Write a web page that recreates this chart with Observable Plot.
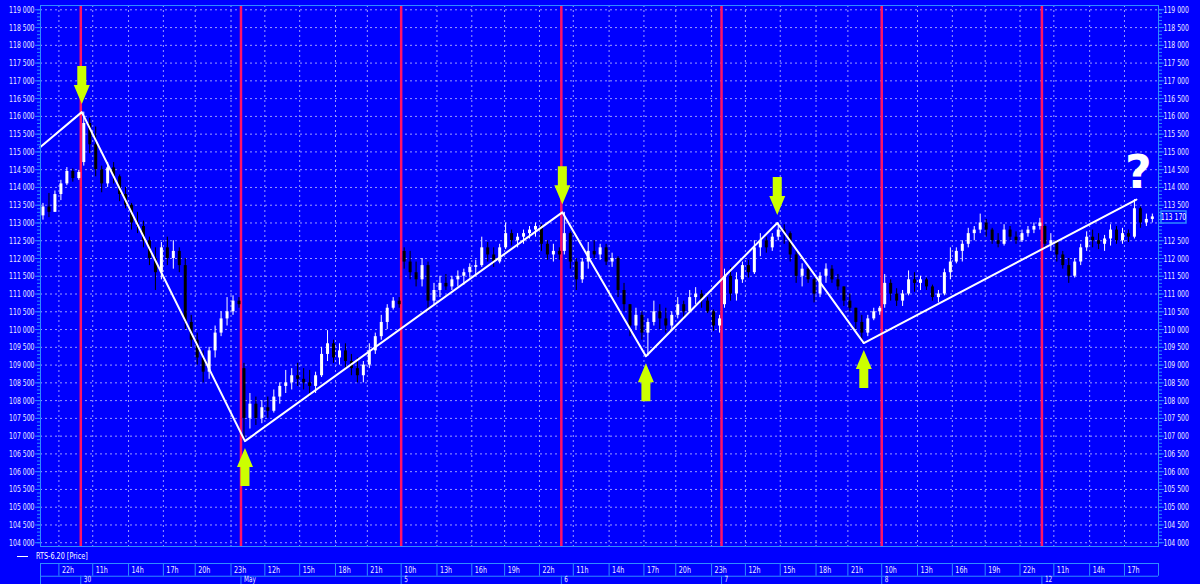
<!DOCTYPE html>
<html><head><meta charset="utf-8">
<script src="https://cdn.jsdelivr.net/npm/d3@7"></script>
<script src="https://cdn.jsdelivr.net/npm/@observablehq/plot@0.6"></script>
<style>
html,body{margin:0;padding:0;background:#0000ff;width:1200px;height:584px;overflow:hidden;}
#legend{position:relative;height:14px;font:9px "DejaVu Sans Condensed","DejaVu Sans",sans-serif;color:#fff;}
#legend .sw{position:absolute;left:17px;top:8px;width:11px;height:1px;background:#fff;}
#legend .lb{position:absolute;left:36px;top:2px;line-height:12px;transform:scaleX(0.8);transform-origin:0 50%;white-space:nowrap;}
svg{display:block}
</style></head><body>
<div id="chart"></div>
<div id="legend"><div class="sw"></div><span class="lb">RTS-6.20 [Price]</span></div>
<div id="axis"></div>
<script>
// ---- data ----
const seriesName = "RTS-6.20 [Price]";
const dayLabels = ["29", "30", "May", "5", "6", "7", "8", "12"];
const firstSlot = [20, 0, 0, 0, 0, 0, 0, 0]; // first visible 30-min slot of each session
// 30-minute bars [open, high, low, close]
const apr29 = [[113200,113550,113080,113450],[113450,113830,113150,113300],[113300,113900,113300,113800],[113800,114200,113630,114100],[114100,114560,114050,114450],[114450,114520,114150,114250],[114250,114480,114200,114420]];
const apr30 = [[114700,116120,114600,115800],[115800,115950,114950,115200],[115200,115700,114300,114500],[114500,114600,113850,114100],[114100,114700,114000,114550],[114550,114700,114100,114300],[114300,114350,113600,113800],[113800,114000,113400,113500],[113500,113550,112800,113000],[113000,113300,112700,112900],[112900,113050,112300,112500],[112500,112600,111800,112000],[112000,112300,111100,111600],[111600,112450,111400,112300],[112300,112600,111800,112000],[112000,112500,111700,112200],[112200,112300,111600,111800],[111800,112000,110000,110200],[110200,110400,109500,109700],[109700,109900,109000,109200],[109200,109400,108500,108800],[108800,109500,108600,109400],[109400,110100,109200,109900],[109900,110500,109800,110300],[110300,110900,110100,110500],[110500,110950,110400,110800],[110800,110900,110600,110700]];
const may4 = [[108900,109050,106860,107500],[107500,108200,107200,107900],[107900,108100,107300,107500],[107500,108000,107350,107800],[107800,108100,107500,107700],[107700,108300,107650,108100],[108100,108500,107900,108400],[108400,108850,108200,108500],[108500,108900,108300,108700],[108700,109050,108400,108600],[108600,108900,108300,108500],[108500,108850,108100,108400],[108400,108800,108200,108700],[108700,109500,108650,109300],[109300,109970,109100,109600],[109600,109700,109050,109200],[109200,109600,109000,109400],[109400,109600,108900,109100],[109100,109300,108700,108900],[108900,109200,108500,108700],[108700,109100,108500,109000],[109000,109600,108900,109400],[109400,109900,109300,109800],[109800,110400,109700,110200],[110200,110700,110000,110600],[110600,110900,110550,110800],[110800,110900,110600,110700]];
const may5 = [[112200,112300,111700,111900],[111900,112200,111400,111600],[111600,111900,111200,111400],[111400,112000,111200,111800],[111800,111900,110500,110800],[110800,111300,110700,111100],[111100,111500,110900,111300],[111300,111550,111100,111200],[111200,111500,111100,111400],[111400,111650,111200,111500],[111500,111700,111250,111600],[111600,111850,111450,111750],[111750,111950,111500,111800],[111800,112600,111750,112300],[112300,112450,111900,112100],[112100,112300,111750,111900],[111900,112400,111850,112300],[112300,113000,112250,112700],[112700,112800,112350,112500],[112500,112700,112300,112600],[112600,112800,112400,112700],[112700,112900,112550,112800],[112800,113000,112600,112900],[112900,112950,112200,112400],[112400,112500,111950,112100],[112100,112400,111900,112200],[112200,112300,111950,112100]];
const may6 = [[112200,113300,112100,112700],[112700,112750,111700,111900],[111900,112000,111100,111400],[111400,112000,111300,111900],[111900,112450,111700,112200],[112200,112500,112000,112100],[112100,112400,111950,112300],[112300,112400,111800,111900],[111900,112150,111750,112000],[112000,112050,110900,111100],[111100,111300,110500,110700],[110700,110700,109800,110100],[110100,110600,110000,110400],[110400,110500,109700,109900],[109900,110300,109250,110200],[110200,110800,110100,110500],[110500,110700,110000,110300],[110300,110600,109900,110100],[110100,110500,110000,110400],[110400,110900,110300,110700],[110700,110800,110250,110500],[110500,111100,110500,110900],[110900,111180,110700,111000],[111000,111100,110600,110800],[110800,110900,110450,110500],[110500,110550,109950,110100],[110100,110400,109900,110300]];
const may7 = [[110700,111700,110600,111500],[111500,111750,110800,111000],[111000,111600,110800,111400],[111400,111900,111300,111800],[111800,111950,111450,111600],[111600,112500,111550,112300],[112300,112700,112050,112500],[112500,112600,112150,112300],[112300,112700,112200,112600],[112600,113000,112500,112800],[112800,112950,112400,112700],[112700,112750,111900,112100],[112100,112200,111300,111500],[111500,111850,111200,111700],[111700,111800,111300,111400],[111400,111450,110750,111000],[111000,111600,110900,111500],[111500,111850,111300,111700],[111700,111800,111300,111400],[111400,111550,111100,111200],[111200,111200,110650,110800],[110800,111000,110500,110600],[110600,110600,110000,110200],[110200,110400,109620,109900],[109900,110400,109800,110300],[110300,110600,110250,110500],[110500,110650,110400,110600]];
const may8 = [[110700,111550,110600,111300],[111300,111400,110800,111000],[111000,111150,110650,110800],[110800,111100,110650,111000],[111000,111650,110950,111400],[111400,111600,111050,111300],[111300,111500,111100,111400],[111400,111450,111100,111200],[111200,111250,110800,110900],[110900,111100,110750,111000],[111000,111700,110950,111600],[111600,112300,111400,111900],[111900,112300,111850,112200],[112200,112500,111900,112400],[112400,112850,112300,112700],[112700,112900,112500,112800],[112800,113250,112700,113000],[113000,113100,112600,112800],[112800,112850,112400,112500],[112500,112700,112300,112400],[112400,112950,112350,112800],[112800,112900,112500,112600],[112600,112750,112400,112500],[112500,112800,112450,112700],[112700,112900,112600,112800],[112800,113000,112700,112900],[112900,113130,112800,113000]];
const may12 = [[112900,112950,112250,112400],[112400,112700,112200,112500],[112500,112500,111900,112100],[112100,112200,111700,111800],[111800,112000,111300,111500],[111500,112000,111450,111900],[111900,112400,111800,112300],[112300,112750,112200,112600],[112600,112800,112300,112500],[112500,112700,112250,112400],[112400,112650,112200,112550],[112550,112950,112350,112800],[112800,112900,112400,112500],[112500,112850,112400,112700],[112700,112800,112450,112600],[112600,113660,112550,113400],[113400,113450,112850,113000],[113000,113250,112900,113100],[113100,113250,113000,113170]];
const sessions = [apr29, apr30, may4, may5, may6, may7, may8, may12];

// zigzag pivots
const zzDay   = [0, 1, 2, 4, 4, 5, 5, 7];
const zzTime  = ["20:27", "10:05", "10:20", "10:05", "17:10", "14:45", "22:20", "18:00"];
const zzPrice = [115140, 116120, 106860, 113300, 109250, 113000, 109620, 113660];
const zzMark  = ["", "down", "up", "down", "up", "down", "up", "?"];

// time-axis ticks (every 3 trading hours)
const tickDay  = [0,1,1,1,1,1,2,2,2,2,3,3,3,3,3,4,4,4,4,4,5,5,5,5,6,6,6,6,6,7,7,7];
const tickHour = [22,11,14,17,20,23,12,15,18,21,10,13,16,19,22,11,14,17,20,23,12,15,18,21,10,13,16,19,22,11,14,17];

const lastPrice = 113170;
const yMajor = d3.range(104000, 119001, 500);
const yMinor = d3.range(104000, 119001, 100);

// ---- helpers ----
const SESSION_MIN = 805; // 10:00-14:00, 14:05-18:45, 19:05-23:50
function tradeMin(day, hhmm) {
  const [h, m] = String(hhmm).split(":").map(Number);
  const c = h * 60 + (m || 0);
  let off;
  if (c < 840) off = c - 600;
  else if (c < 845) off = 240;
  else if (c < 1125) off = 240 + c - 845;
  else if (c < 1145) off = 520;
  else off = 520 + c - 1145;
  return day * SESSION_MIN + off;
}
const fmt = d3.formatLocale({decimal: ".", thousands: " ", grouping: [3], currency: ["", ""]}).format(",d");

const bars = sessions.flatMap((arr, d) => arr.map((b, i) => ({
  t: d * SESSION_MIN + 30 * (firstSlot[d] + i) + 15, o: b[0], h: b[1], l: b[2], c: b[3]
})));
const zz = zzDay.map((d, i) => ({t: tradeMin(d, zzTime[i]), p: zzPrice[i], mark: zzMark[i]}));
const hourTicks = tickDay.map((d, i) => ({t: tradeMin(d, tickHour[i] + ":00"), label: tickHour[i] + "h"}));
const xWindow = [tradeMin(0, "20:27") + 0.5, tradeMin(7, "20:11")];
const yWindow = [103894, 119121];
const days = dayLabels.map((label, d) => ({t: d * SESSION_MIN, label})).filter(d => d.t >= xWindow[0]);

// ---- style ----
const BG = "#0000ff", AXIS = "#2f8cff", GRID = "#9c9cff", RED = "#ff1466", LIME = "#ccff00";
const UP = "#ffffff", DOWN = "#000000", TXT = "#ecebff";
const FONT = '"DejaVu Sans Condensed","DejaVu Sans",sans-serif';

const arrowDown = {draw(c) { c.moveTo(-4.5,-38); c.lineTo(4.5,-38); c.lineTo(4.5,-19); c.lineTo(8,-19); c.lineTo(0,0); c.lineTo(-8,-19); c.lineTo(-4.5,-19); c.closePath(); }};
const arrowUp = {draw(c) { c.moveTo(-4.5,38); c.lineTo(4.5,38); c.lineTo(4.5,19); c.lineTo(8,19); c.lineTo(0,0); c.lineTo(-8,19); c.lineTo(-4.5,19); c.closePath(); }};
const boxSym = {draw(c) { c.rect(-12.5, -6, 25, 12); }};
const barColor = d => d.c >= d.o ? UP : DOWN;

// narrow the text glyphs horizontally around their anchor point
function squeeze(nodes, s) {
  nodes.forEach(t => {
    const x = +t.getAttribute("x") || 0;
    const tr = t.getAttribute("transform") || "";
    t.setAttribute("transform", `${tr} translate(${x},0) scale(${s},1) translate(${-x},0)`);
  });
}

const main = Plot.plot({
  width: 1200, height: 548,
  marginLeft: 40, marginRight: 42, marginTop: 5, marginBottom: 2,
  style: {background: BG, color: TXT, fontFamily: FONT, fontSize: "9px", overflow: "visible"},
  x: {type: "linear", domain: xWindow, axis: null},
  y: {type: "linear", domain: yWindow, axis: null},
  color: {type: "identity"},
  marks: [
    Plot.ruleY(yMajor, {stroke: GRID, strokeDasharray: "2,3"}),
    Plot.ruleX(hourTicks, {x: "t", stroke: GRID, strokeDasharray: "2,3"}),
    Plot.ruleX(days, {x: "t", stroke: RED, strokeWidth: 2.5}),
    Plot.ruleX(bars, {x: "t", y1: "l", y2: "h", stroke: barColor, strokeWidth: 1}),
    Plot.ruleX(bars, {x: "t", y1: "o", y2: "c", stroke: barColor, strokeWidth: 3}),
    Plot.line(zz, {x: "t", y: "p", stroke: "#ffffff", strokeWidth: 2}),
    Plot.dot(zz.filter(d => d.mark === "down"), {x: "t", y: "p", symbol: arrowDown, fill: LIME, stroke: "none", dy: -8}),
    Plot.dot(zz.filter(d => d.mark === "up"), {x: "t", y: "p", symbol: arrowUp, fill: LIME, stroke: "none", dy: 7}),
    Plot.text(zz.filter(d => d.mark === "?"), {x: "t", y: "p", text: "mark", fontSize: 46, fontWeight: "bold", fontFamily: "DejaVu Sans", fill: "#ffffff", dy: -26, dx: 2}),
    Plot.frame({stroke: AXIS}),
    Plot.axisY({ticks: yMinor, anchor: "left", tickSize: 3, tickFormat: () => "", stroke: AXIS, color: TXT}),
    Plot.axisY({ticks: yMajor, anchor: "left", tickSize: 5, tickPadding: 1, tickFormat: fmt, stroke: AXIS, color: TXT, fontSize: 9.5, label: null}),
    Plot.axisY({ticks: yMinor, anchor: "right", tickSize: 3, tickFormat: () => "", stroke: AXIS, color: TXT}),
    Plot.axisY({ticks: yMajor, anchor: "right", tickSize: 5, tickPadding: 0, tickFormat: v => Math.abs(v - lastPrice) > 250 ? fmt(v) : "", stroke: AXIS, color: TXT, fontSize: 9.5, label: null}),
    Plot.dot([lastPrice], {y: d => d, frameAnchor: "right", dx: 15, symbol: boxSym, fill: BG, stroke: AXIS}),
    Plot.text([lastPrice], {y: d => d, frameAnchor: "right", dx: 15, text: d => fmt(d), textAnchor: "middle", fill: "#ffffff", fontSize: 9.5})
  ]
});
squeeze(main.querySelectorAll('g[aria-label="y-axis tick label"] text'), 0.72);
squeeze([...main.querySelectorAll('text')].filter(t => t.textContent === fmt(lastPrice)), 0.72);
document.getElementById("chart").append(main);

const axis = Plot.plot({
  width: 1200, height: 22,
  marginLeft: 40, marginRight: 42, marginTop: 1, marginBottom: 0,
  style: {background: BG, color: TXT, fontFamily: FONT, fontSize: "9px", overflow: "visible"},
  x: {type: "linear", domain: xWindow, axis: null},
  y: {type: "linear", domain: [0.35, 2], axis: null},
  marks: [
    Plot.ruleY([1, 2], {stroke: AXIS}),
    Plot.ruleX([xWindow[0]], {y1: 0.35, y2: 2, stroke: AXIS}),
    Plot.ruleX([xWindow[1]], {y1: 1, y2: 2, stroke: AXIS}),
    Plot.ruleX(hourTicks, {x: "t", y1: 1, y2: 2, stroke: AXIS}),
    Plot.ruleX(days, {x: "t", y1: 0.35, y2: 1, stroke: AXIS}),
    Plot.text(hourTicks, {x: "t", y: 1.5, text: "label", textAnchor: "start", dx: 3, fill: TXT, fontSize: 9.5}),
    Plot.text(days, {x: "t", y: 0.74, text: "label", textAnchor: "start", dx: 3, fill: TXT, fontSize: 8.5})
  ]
});
squeeze(axis.querySelectorAll('text'), 0.75);
document.getElementById("axis").append(axis);
</script>
</body></html>
